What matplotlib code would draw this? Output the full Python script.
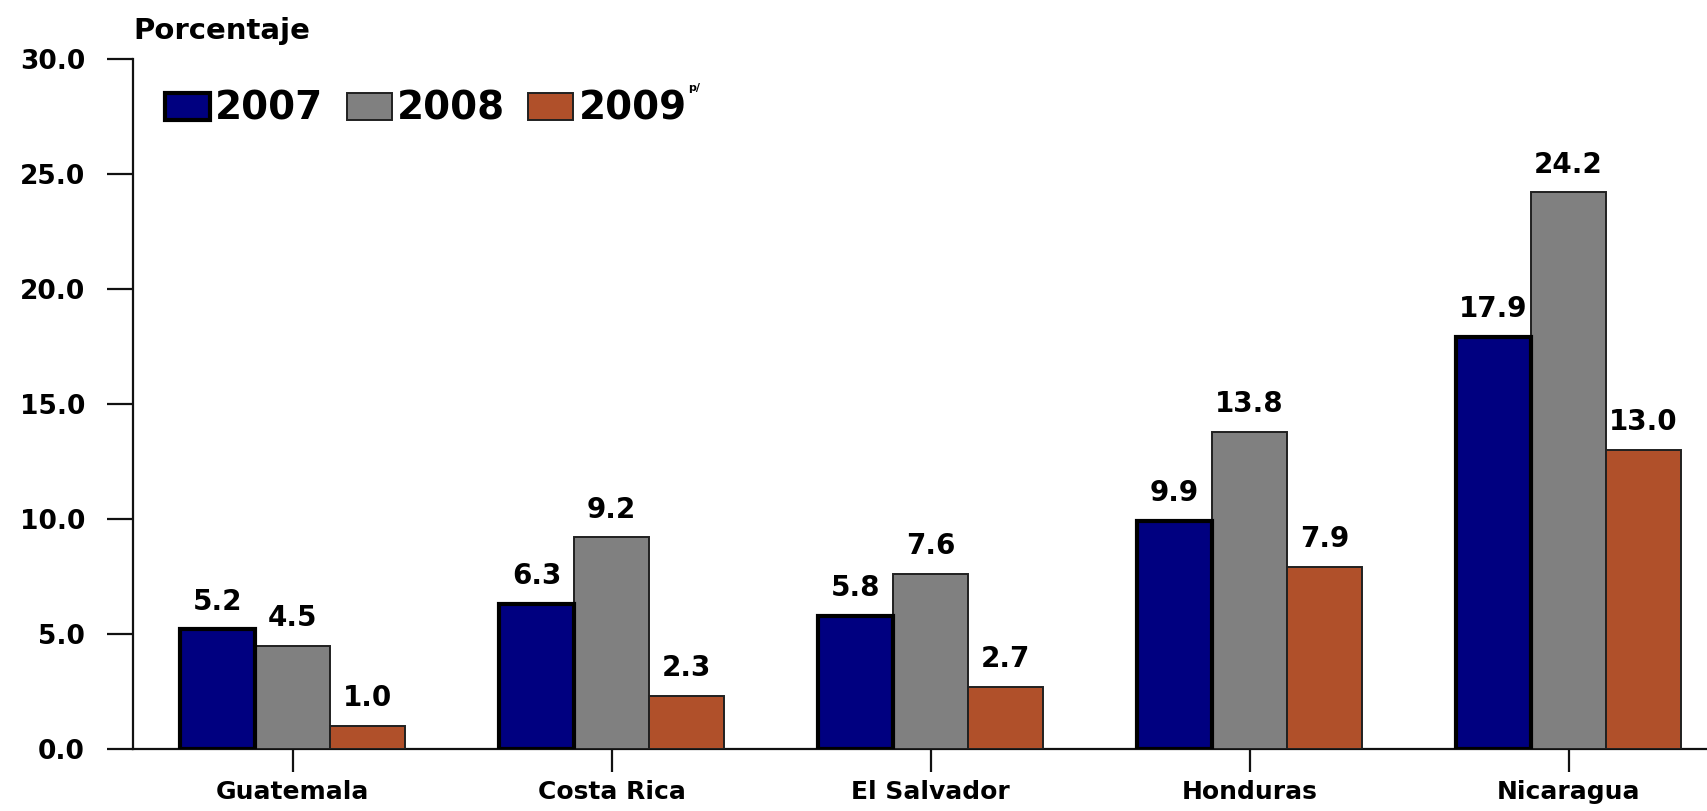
import matplotlib
matplotlib.use("Agg")
import matplotlib.pyplot as plt
import numpy as np

# Data
countries = ["Guatemala", "Costa Rica", "El Salvador", "Honduras", "Nicaragua"]
years = ["2007", "2008", "2009"]
values_2007 = [5.2, 6.3, 5.8, 9.9, 17.9]
values_2008 = [4.5, 9.2, 7.6, 13.8, 24.2]
values_2009 = [1.0, 2.3, 2.7, 7.9, 13.0]
yticks = [0.0, 5.0, 10.0, 15.0, 20.0, 25.0, 30.0]

series = [values_2007, values_2008, values_2009]
colors = ["#000080", "#808080", "#B0502A"]
edge_widths = [3.0, 1.4, 1.4]
edge_colors = ["#000000", "#202020", "#202020"]
z_orders = [4, 3, 3]

W, H, DPI = 1707, 811, 100
fig = plt.figure(figsize=(W / DPI, H / DPI), dpi=DPI)
fig.patch.set_facecolor("white")

# axes placement in pixels
left_px, right_px, top_px, bottom_px = 133, W, 59, 749
ax = fig.add_axes([left_px / W, 1 - bottom_px / H,
                   (right_px - left_px) / W, (bottom_px - top_px) / H])

spacing_px = 319.0
first_center_px = 292.5
x = np.arange(len(countries))
bar_w = 75.0 / spacing_px

for i, (vals, col) in enumerate(zip(series, colors)):
    ax.bar(x + (i - 1) * bar_w, vals, width=bar_w, color=col,
           edgecolor=edge_colors[i], linewidth=edge_widths[i],
           label=years[i], zorder=z_orders[i])
    for xi, v in zip(x + (i - 1) * bar_w, vals):
        ax.annotate(f"{v:.1f}", (xi, v), xytext=(0, 10),
                    textcoords="offset points", ha="center", va="bottom",
                    fontsize=20, fontweight="bold", family="DejaVu Sans",
                    color="black")

x_left = (left_px - first_center_px) / spacing_px
x_right = (right_px - first_center_px) / spacing_px
ax.set_xlim(x_left, x_right)
ax.set_ylim(0, 30)

ax.set_yticks(yticks)
ax.set_yticklabels([f"{t:.1f}" for t in yticks])
ax.set_xticks(x)
ax.set_xticklabels(countries)

for s in ["top", "right"]:
    ax.spines[s].set_visible(False)
for s in ["left", "bottom"]:
    ax.spines[s].set_linewidth(1.6)
    ax.spines[s].set_color("#111111")

ax.tick_params(axis="y", direction="out", length=18.5, width=1.6,
               pad=16, labelsize=19, colors="#111111")
ax.tick_params(axis="x", direction="out", length=16.5, width=1.6,
               pad=6, labelsize=18, colors="#111111")
for lab in ax.get_xticklabels() + ax.get_yticklabels():
    lab.set_fontweight("bold")
    lab.set_family("DejaVu Sans")
    lab.set_color("black")

# y-axis caption
fig.text(133 / W, 1 - 31 / H, "Porcentaje", ha="left", va="center",
         fontsize=21, fontweight="bold", family="DejaVu Sans")

leg = ax.legend(loc="center left",
                bbox_to_anchor=(165 / W, 1 - 109 / H),
                bbox_transform=fig.transFigure,
                ncol=3, frameon=False, borderpad=0, borderaxespad=0,
                handlelength=1.16, handleheight=0.67,
                handletextpad=0.13, columnspacing=0.6,
                prop={"family": "DejaVu Sans", "weight": "bold", "size": 28})

# superscript marker after the last legend entry
fig.canvas.draw()
renderer = fig.canvas.get_renderer()
last = leg.get_texts()[-1].get_window_extent(renderer)
fig.text((last.x1 + 1) / W, 1 - 91 / H, "p/", ha="left", va="baseline",
         fontsize=8, fontweight="bold", family="DejaVu Sans")

fig.savefig("out.png", dpi=DPI, facecolor="white")
